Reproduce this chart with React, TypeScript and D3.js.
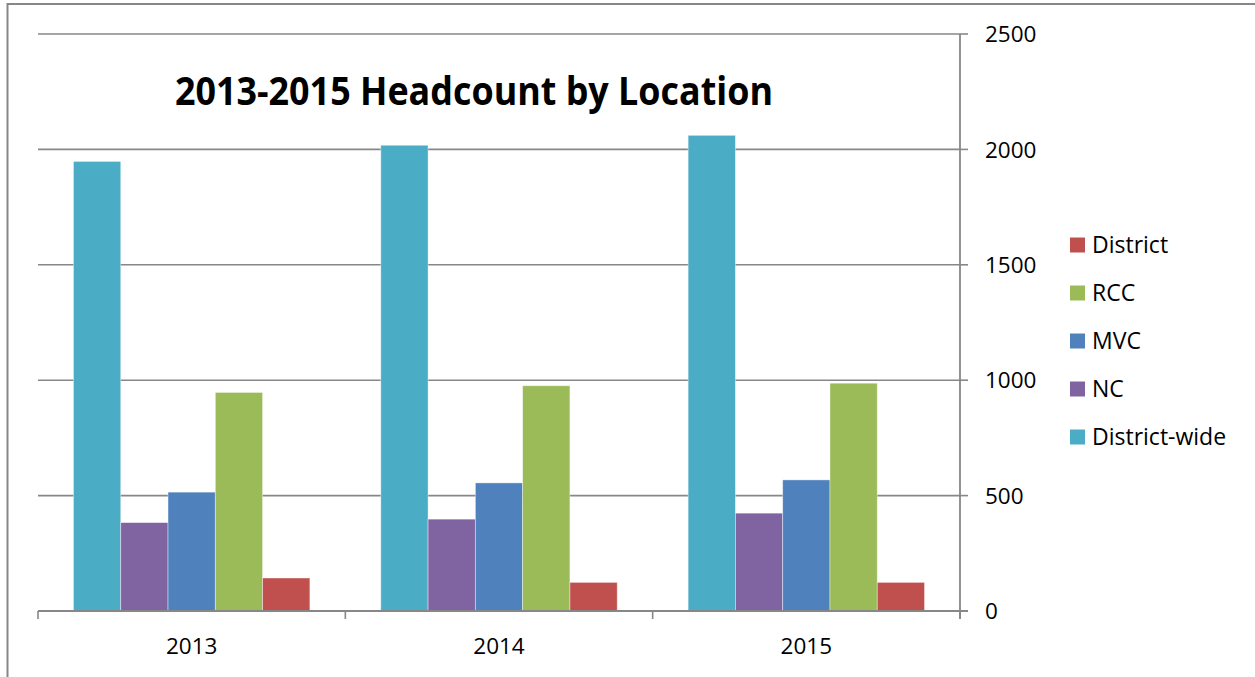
import React from "react";
import * as d3 from "d3";

const categories = ["2013", "2014", "2015"];
const seriesNames = ["District-wide", "NC", "MVC", "RCC", "District"];
const districtWide = [1948, 2018, 2061];
const nc = [383, 398, 424];
const mvc = [515, 555, 568];
const rcc = [947, 976, 987];
const district = [143, 124, 124];
const seriesColors = ["#4BACC6", "#8064A2", "#4F81BD", "#9BBB59", "#C0504D"];
const legendOrder = ["District", "RCC", "MVC", "NC", "District-wide"];
const yTicks = [0, 500, 1000, 1500, 2000, 2500];

const seriesValues = [districtWide, nc, mvc, rcc, district];

export default function App() {
  const W = 1255, H = 677;
  const left = 38, right = 960, top = 34, bottom = 611;
  const x = d3.scaleBand<string>().domain(categories).range([left, right]).padding(0);
  const y = d3.scaleLinear().domain([0, 2500]).range([bottom, top]);
  const inner = d3
    .scaleBand<string>()
    .domain(seriesNames)
    .range([0, x.bandwidth()])
    .paddingInner(0)
    .paddingOuter(0.75);
  const font = "'Open Sans', 'Noto Sans', sans-serif";
  const grey = "#878787";
  const legendX = 1070;
  const legendY0 = 245;
  const legendStep = 48;
  const color = (name: string) => seriesColors[seriesNames.indexOf(name)];

  return (
    <svg width={W} height={H} style={{ position: "absolute", left: 0, top: 0, background: "#fff" }}>
      <rect x={7.5} y={4} width={1400} height={900} fill="#fff" stroke={grey} strokeWidth={2} />
      {yTicks.map((t) => (
        <g key={t}>
          {t > 0 && (
            <line x1={left} x2={right} y1={y(t)} y2={y(t)} stroke={grey} strokeWidth={1.6} />
          )}
          <line x1={right} x2={right + 8} y1={y(t)} y2={y(t)} stroke={grey} strokeWidth={1.6} />
          <text x={right + 25} y={y(t)} dy="0.36em" fontFamily={font} fontSize={22.5} fill="#000">
            {t}
          </text>
        </g>
      ))}
      {categories.map((c, ci) =>
        seriesNames.map((s, si) => {
          const v = seriesValues[si][ci];
          return (
            <rect
              key={c + s}
              x={(x(c) as number) + (inner(s) as number)}
              y={y(v)}
              width={inner.bandwidth()}
              height={y(0) - y(v)}
              fill={seriesColors[si]}
              stroke="rgba(255,255,255,0.5)"
              strokeWidth={0.8}
            />
          );
        })
      )}
      <line x1={left} x2={right + 8} y1={bottom} y2={bottom} stroke={grey} strokeWidth={1.8} />
      <line x1={right} x2={right} y1={top} y2={bottom + 8} stroke={grey} strokeWidth={1.8} />
      {[...categories.map((c) => x(c) as number), right].map((px, i) => (
        <line key={i} x1={px} x2={px} y1={bottom} y2={bottom + 8} stroke={grey} strokeWidth={1.6} />
      ))}
      {categories.map((c) => (
        <text
          key={c}
          x={(x(c) as number) + x.bandwidth() / 2}
          y={654}
          textAnchor="middle"
          fontFamily={font}
          fontSize={22.5}
          fill="#000"
        >
          {c}
        </text>
      ))}
      <text
        x={474}
        y={105}
        textAnchor="middle"
        fontFamily={font}
        fontWeight="bold"
        fontSize={39}
        textLength={598}
        lengthAdjust="spacingAndGlyphs"
        fill="#000"
      >
        2013-2015 Headcount by Location
      </text>
      {legendOrder.map((name, i) => (
        <g key={name} transform={`translate(${legendX},${legendY0 + i * legendStep})`}>
          <rect x={0} y={-7.5} width={15} height={15} fill={color(name)} />
          <text x={22} y={0} dy="0.36em" fontFamily={font} fontSize={23} fill="#000">
            {name}
          </text>
        </g>
      ))}
    </svg>
  );
}
